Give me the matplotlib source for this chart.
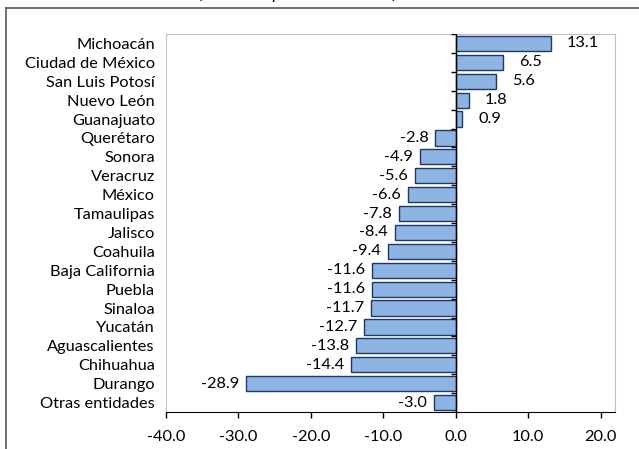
import matplotlib.pyplot as plt
from matplotlib.lines import Line2D

## data
estados = ['Michoacán', 'Ciudad de México', 'San Luis Potosí', 'Nuevo León', 'Guanajuato',
           'Querétaro', 'Sonora', 'Veracruz', 'México', 'Tamaulipas', 'Jalisco', 'Coahuila',
           'Baja California', 'Puebla', 'Sinaloa', 'Yucatán', 'Aguascalientes', 'Chihuahua',
           'Durango', 'Otras entidades']
variacion = [13.1, 6.5, 5.6, 1.8, 0.9, -2.8, -4.9, -5.6, -6.6, -7.8, -8.4, -9.4,
             -11.6, -11.6, -11.7, -12.7, -13.8, -14.4, -28.9, -3.0]
xticks = [-40, -30, -20, -10, 0, 10, 20]

plt.rcParams['font.family'] = ['Lato', 'DejaVu Sans']
FS = 11.8
W, H = 639, 449
fig = plt.figure(figsize=(W/100, H/100), dpi=100)
ax = fig.add_axes([166/W, 1-412/H, (615-166)/W, (412-34)/H])

pos = list(range(len(estados)))
ax.barh(pos, variacion, height=0.8, color='#8DB4E2', edgecolor='#1F3864', linewidth=1.0, zorder=3)

## value labels
for p, v in zip(pos, variacion):
  if v >= 0:
    ax.annotate('%.1f' % v, (v, p), xytext=(11.5, 0), textcoords='offset points',
                ha='left', va='center', fontsize=FS)
  else:
    ax.annotate('%.1f' % v, (v, p), xytext=(-5, 0), textcoords='offset points',
                ha='right', va='center', fontsize=FS)

ax.set_ylim(len(estados)-0.5, -0.5)
ax.set_xlim(-40, 22)
ax.set_xticks(xticks)
ax.set_xticklabels(['%.1f' % t for t in xticks], fontsize=FS)
ax.set_yticks(pos)
ax.set_yticklabels(estados, fontsize=FS)
ax.tick_params(axis='y', length=0, pad=8)
ax.tick_params(axis='x', length=4, width=1, direction='out', pad=9, color='black')

for s in ['top', 'right', 'left']:
  ax.spines[s].set_color('#BFBFBF')
ax.spines['bottom'].set_color('black')

## zero axis with category ticks
ax.axvline(0, color='black', lw=1.0, zorder=4)
bounds = [p - 0.5 for p in pos] + [pos[-1] + 0.5]
ax.hlines(bounds, -0.7, 0, color='black', lw=1.0, zorder=4)

## outer chart border (right and bottom outside picture)
fig.add_artist(Line2D([6/W, 6/W], [0, 1-8/H], color='#595959', lw=1.2))
fig.add_artist(Line2D([6/W, 1], [1-8/H, 1-8/H], color='#595959', lw=1.2))

## title cut by the top edge
fig.text(297/W, 1+1.5/H, '(variación porcentual anual)', ha='center', va='baseline', fontsize=FS)

plt.savefig('out.png', dpi=100)
